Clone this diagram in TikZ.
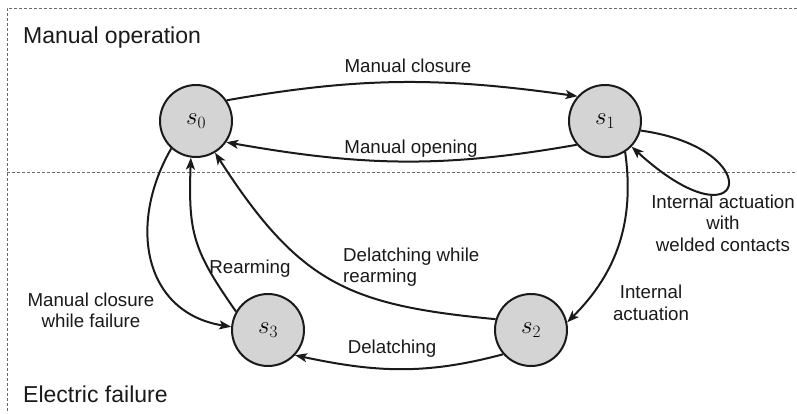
\documentclass[tikz,border=0pt]{standalone}
\usepackage[no-math]{fontspec}
\setmainfont{Liberation Sans}
\usetikzlibrary{arrows.meta}
\definecolor{statefill}{HTML}{D4D4D4}
\definecolor{ink}{HTML}{1A1A1A}
\tikzset{
  state/.style={circle, draw=ink, line width=2pt, fill=statefill,
    minimum size=72pt, inner sep=0pt, font=\fontsize{27}{30}\selectfont},
  tr/.style={draw=ink, line width=2pt,
    -{Stealth[length=12pt,width=9pt,inset=3pt]}},
  lbl/.style={font=\fontsize{18.7}{21.5}\selectfont, text=ink,
    align=center, inner sep=0pt},
  region/.style={font=\fontsize{23}{27}\selectfont, text=ink,
    anchor=base west, inner sep=0pt},
  sep/.style={draw=ink!65, line width=0.9pt, dash pattern=on 3pt off 2pt}
}
\begin{document}
\begin{tikzpicture}[x=1pt, y=1pt]
  \fill[white] (0,0) rectangle (797,-413);
  \useasboundingbox (0,0) rectangle (797,-413);

  % region borders
  \draw[sep] (797,-8) -- (7,-8) -- (7,-413);
  \draw[sep] (7,-172) -- (797,-172);
  \node[region] (manop) at (23,-43) {Manual operation};
  \node[region] (elfail) at (23,-402) {Electric failure};

  % states
  \node[state] (s0) at (196,-121) {$s_0$};
  \node[state] (s1) at (605,-121) {$s_1$};
  \node[state] (s2) at (531,-330) {$s_2$};
  \node[state] (s3) at (268,-330) {$s_3$};

  % transitions
  \draw[tr] (s0.34) to[out=10, in=172] (s1.138);
  \draw[tr] (s1.220) to[out=190, in=-10] (s0.-35);
  \draw[tr] (s1.-15) .. controls +(130,-18) and +(115,-105) .. (s1.-44);
  \draw[tr] (s1.-57) to[out=-82, in=45] (s2.12);
  \draw[tr] (s2.221) to[out=195, in=-12] (s3.-43);
  \draw[tr] (s2.163) .. controls +(-146,14) and +(85,-132) .. (s0.-59);
  \draw[tr] (s3.150) to[out=125, in=-92, looseness=1.2] (s0.-98);
  \draw[tr] (s0.228) to[out=240, in=171, looseness=1.2] (s3.175);

  % transition labels
  \node[lbl, anchor=base] (lclose) at (408,-72) {Manual closure};
  \node[lbl, anchor=base] (lopen) at (411,-153) {Manual opening};
  \node[lbl] (lweld) at (723,-223) {Internal actuation\\with\\welded contacts};
  \node[lbl] (lint) at (651,-303) {Internal\\actuation};
  \node[lbl, anchor=west, align=left] (ldlr) at (343,-267) {Delatching while\\rearming};
  \node[lbl, anchor=base] (lrearm) at (250,-273) {Rearming};
  \node[lbl] (lmcf) at (91,-310.5) {Manual closure\\while failure};
  \node[lbl, anchor=base] (ldel) at (392,-353) {Delatching};
\end{tikzpicture}
\end{document}
